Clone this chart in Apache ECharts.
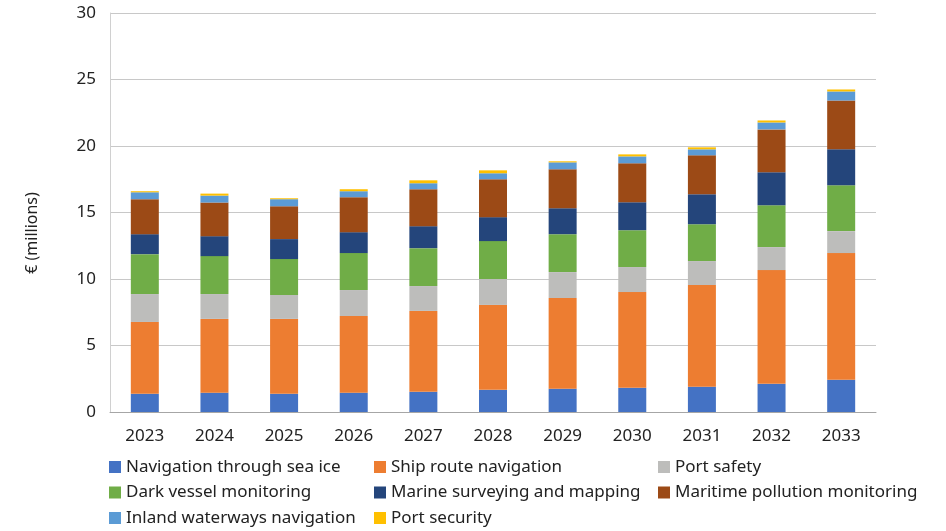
<!DOCTYPE html>
<html>
<head>
<meta charset="utf-8">
<script src="https://cdn.jsdelivr.net/npm/echarts@6/dist/echarts.min.js"></script>
<style>
  html, body { margin: 0; padding: 0; background: #fff; }
  #chart { width: 946px; height: 531px; }
</style>
</head>
<body>
<div id="chart"></div>
<script>
// years on the x axis
const years = ['2023', '2024', '2025', '2026', '2027', '2028', '2029', '2030', '2031', '2032', '2033']

// segment values, € millions
const seaIce      = [1.37, 1.45, 1.37, 1.45, 1.52, 1.67, 1.75, 1.82, 1.90, 2.12, 2.42]
const shipRoute   = [5.40, 5.55, 5.63, 5.77, 6.08, 6.38, 6.82, 7.20, 7.65, 8.55, 9.53]
const portSafety  = [2.10, 1.87, 1.80, 1.95, 1.87, 1.95, 1.95, 1.88, 1.80, 1.73, 1.65]
const darkVessel  = [3.00, 2.85, 2.70, 2.78, 2.85, 2.85, 2.85, 2.77, 2.77, 3.15, 3.45]
const surveying   = [1.50, 1.50, 1.50, 1.57, 1.65, 1.80, 1.95, 2.10, 2.25, 2.47, 2.70]
const pollution   = [2.63, 2.53, 2.47, 2.63, 2.78, 2.85, 2.93, 2.93, 2.93, 3.23, 3.67]
const inland      = [0.52, 0.52, 0.53, 0.45, 0.45, 0.45, 0.52, 0.52, 0.45, 0.52, 0.68]
const portSec     = [0.08, 0.15, 0.07, 0.15, 0.22, 0.22, 0.08, 0.15, 0.15, 0.15, 0.15]

const yTicks = [0, 5, 10, 15, 20, 25, 30]

const seriesList = [
  { name: 'Navigation through sea ice', data: seaIce, color: '#4472C4' },
  { name: 'Ship route navigation', data: shipRoute, color: '#ED7D31' },
  { name: 'Port safety', data: portSafety, color: '#BDBDBB' },
  { name: 'Dark vessel monitoring', data: darkVessel, color: '#70AD47' },
  { name: 'Marine surveying and mapping', data: surveying, color: '#24457B' },
  { name: 'Maritime pollution monitoring', data: pollution, color: '#9C4A16' },
  { name: 'Inland waterways navigation', data: inland, color: '#5B9BD5' },
  { name: 'Port security', data: portSec, color: '#FFC000' }
]

const font = 'Noto Sans'
const legendText = { fontFamily: font, fontSize: 17, color: '#222', lineHeight: 18 }

// one legend per column, so the columns line up like the picture
const legendCol = (left, names) => ({
  orient: 'vertical',
  left: left,
  top: 458,
  itemWidth: 12,
  itemHeight: 12,
  itemGap: 7.5,
  icon: 'rect',
  padding: 0,
  textStyle: legendText,
  data: names
})

const chart = echarts.init(document.getElementById('chart'))
chart.setOption({
  animation: false,
  grid: { left: 110, right: 70, top: 13, bottom: 119 },
  legend: [
    legendCol(109, ['Navigation through sea ice', 'Dark vessel monitoring', 'Inland waterways navigation']),
    legendCol(374, ['Ship route navigation', 'Marine surveying and mapping', 'Port security']),
    legendCol(658, ['Port safety', 'Maritime pollution monitoring'])
  ],
  xAxis: {
    type: 'category',
    data: years,
    axisTick: { show: false },
    axisLine: { lineStyle: { color: '#a6a6a6', width: 1 } },
    axisLabel: { fontFamily: font, fontSize: 17, color: '#222', margin: 16 }
  },
  yAxis: {
    type: 'value',
    min: yTicks[0],
    max: yTicks[yTicks.length - 1],
    interval: 5,
    axisLine: { show: true, lineStyle: { color: '#d0d0d0' } },
    axisTick: { show: false },
    splitLine: { lineStyle: { color: '#c8c8c8', width: 1 } },
    axisLabel: { fontFamily: font, fontSize: 17, color: '#222', margin: 14 }
  },
  graphic: [{
    type: 'text',
    x: 32,
    y: 233,
    rotation: Math.PI / 2,
    style: {
      text: '€ (millions)',
      fontFamily: font,
      fontSize: 16,
      fill: '#222',
      align: 'center',
      verticalAlign: 'middle'
    }
  }],
  series: seriesList.map(s => ({
    name: s.name,
    type: 'bar',
    stack: 'total',
    barWidth: 28,
    data: s.data,
    itemStyle: { color: s.color }
  }))
})
</script>
</body>
</html>
